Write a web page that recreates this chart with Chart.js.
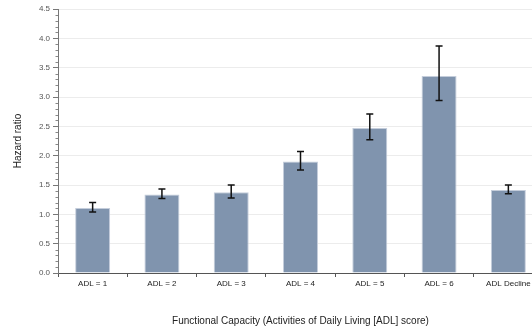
<!DOCTYPE html>
<html>
<head>
<meta charset="utf-8">
<script src="https://cdn.jsdelivr.net/npm/chart.js@4/dist/chart.umd.min.js"></script>
<style>
html,body{margin:0;padding:0;background:#fff;overflow:hidden;width:532px;height:329px;}
canvas{display:block;}
</style>
</head>
<body>
<canvas id="c" width="543" height="329"></canvas>
<script>
const categories = ['ADL = 1','ADL = 2','ADL = 3','ADL = 4','ADL = 5','ADL = 6','ADL Decline'];
const hazardRatio = [1.11, 1.34, 1.375, 1.90, 2.47, 3.36, 1.415];
const ciLower = [1.04, 1.27, 1.28, 1.755, 2.27, 2.94, 1.35];
const ciUpper = [1.20, 1.43, 1.50, 2.07, 2.71, 3.87, 1.50];
const yMin = 0, yMax = 4.5, yStep = 0.5, yMinorStep = 0.1;

const errorBars = {
  id: 'errorBars',
  afterDatasetsDraw(chart) {
    const ctx = chart.ctx;
    const meta = chart.getDatasetMeta(0);
    const y = chart.scales.y;
    ctx.save();
    ctx.strokeStyle = '#111';
    ctx.lineWidth = 1.5;
    meta.data.forEach((bar, i) => {
      const x = bar.x;
      const yt = y.getPixelForValue(ciUpper[i]);
      const yb = y.getPixelForValue(ciLower[i]);
      ctx.beginPath();
      ctx.moveTo(x, yt); ctx.lineTo(x, yb);
      ctx.moveTo(x - 3.5, yt); ctx.lineTo(x + 3.5, yt);
      ctx.moveTo(x - 3.5, yb); ctx.lineTo(x + 3.5, yb);
      ctx.stroke();
    });
    ctx.restore();
  }
};

const minorTicks = {
  id: 'minorTicks',
  afterDraw(chart) {
    const ctx = chart.ctx;
    const y = chart.scales.y;
    const left = chart.chartArea.left;
    ctx.save();
    ctx.strokeStyle = '#888';
    ctx.lineWidth = 1;
    const n = Math.round((yMax - yMin) / yMinorStep);
    for (let k = 0; k <= n; k++) {
      const v = yMin + k * yMinorStep;
      if (k % Math.round(yStep / yMinorStep) === 0) continue;
      const py = Math.round(y.getPixelForValue(v)) + 0.5;
      ctx.beginPath();
      ctx.moveTo(left - 2.5, py); ctx.lineTo(left, py);
      ctx.stroke();
    }
    ctx.restore();
  }
};

new Chart(document.getElementById('c'), {
  type: 'bar',
  data: {
    labels: categories,
    datasets: [{
      data: hazardRatio,
      backgroundColor: '#8094AE',
      borderColor: '#C4CDDB',
      borderWidth: 1,
      categoryPercentage: 1,
      barPercentage: 0.505
    }]
  },
  options: {
    responsive: false,
    animation: false,
    layout: { padding: { top: 9, left: 0, right: 0, bottom: 0 } },
    plugins: { legend: { display: false }, tooltip: { enabled: false } },
    scales: {
      x: {
        grid: { display: true, drawOnChartArea: false, drawTicks: true, tickLength: 4, color: '#555', offset: true },
        border: { display: true, color: '#555', width: 1 },
        ticks: { color: '#222', font: { family: 'Liberation Sans', size: 8 }, padding: 2, maxRotation: 0, autoSkip: false },
        title: { display: true, text: 'Functional Capacity (Activities of Daily Living [ADL] score)', color: '#222', font: { family: 'Liberation Sans', size: 10 }, padding: { top: 0, bottom: 2 } },
        afterFit(scale) { scale.height = 56; }
      },
      y: {
        min: yMin, max: yMax,
        grid: { color: '#ececec', lineWidth: 1, tickColor: '#777', tickLength: 5, drawTicks: true },
        border: { display: true, color: '#777', width: 1 },
        ticks: { stepSize: yStep, color: '#555', font: { family: 'Liberation Sans', size: 8 }, padding: 3, callback: v => v.toFixed(1) },
        title: { display: true, text: 'Hazard ratio', color: '#222', font: { family: 'Liberation Sans', size: 10 }, padding: { top: 12, bottom: 0 } },
        afterFit(scale) { scale.width = 58; }
      }
    }
  },
  plugins: [errorBars, minorTicks]
});
</script>
</body>
</html>
